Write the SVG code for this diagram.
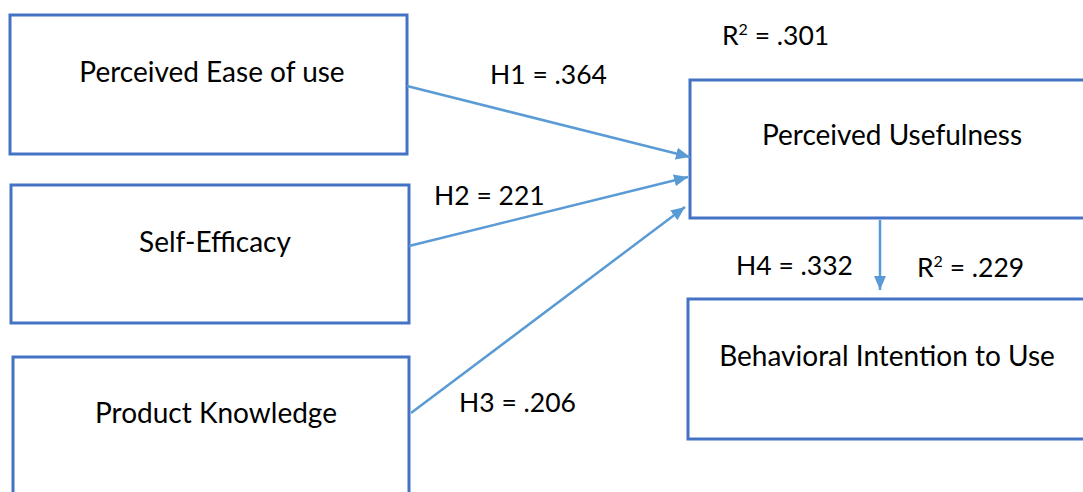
<svg xmlns="http://www.w3.org/2000/svg" width="1083" height="492" viewBox="0 0 1083 492">
<style>
.box{fill:#fff;stroke:#4472C4;stroke-width:3}
.t{font-family:Lato,"Open Sans","Liberation Sans",sans-serif;font-size:28px;fill:#000}
.l{font-family:Lato,"Open Sans","Liberation Sans",sans-serif;font-size:26.5px;fill:#000}
.c{text-anchor:middle}
.e{stroke:#5B9BD5;stroke-width:2.5;fill:none}
</style>
<defs>
<marker id="ah" markerUnits="userSpaceOnUse" markerWidth="16" markerHeight="14" refX="14" refY="6" orient="auto">
<path d="M0,0 L14,6 L0,12 z" fill="#5B9BD5"/>
</marker>
</defs>
<rect width="1083" height="492" fill="#fff"/>
<g id="peou">
<rect class="box" x="10" y="15" width="397" height="139"/>
<text class="t c" x="212" y="82">Perceived Ease of use</text>
</g>
<g id="se">
<rect class="box" x="11" y="185" width="398" height="138"/>
<text class="t c" x="215" y="252">Self-Efficacy</text>
</g>
<g id="pk">
<rect class="box" x="13" y="357" width="396" height="150"/>
<text class="t c" x="216" y="423">Product Knowledge</text>
</g>
<g id="pu">
<rect class="box" x="690" y="80" width="410" height="138"/>
<text class="t c" x="892" y="145">Perceived Usefulness</text>
</g>
<g id="bi">
<rect class="box" x="688" y="299" width="410" height="140"/>
<text class="t c" x="887" y="366">Behavioral Intention to Use</text>
</g>
<g id="connectors">
<line class="e" x1="407" y1="86" x2="690" y2="157" marker-end="url(#ah)"/>
<line class="e" x1="409" y1="246" x2="688" y2="177" marker-end="url(#ah)"/>
<line class="e" x1="411" y1="413" x2="685" y2="207" marker-end="url(#ah)"/>
<line class="e" x1="880" y1="220" x2="880" y2="290" marker-end="url(#ah)"/>
</g>
<g id="labels">
<text class="l" x="722" y="45">R<tspan font-size="16" dy="-10">2</tspan><tspan dy="10"> = .301</tspan></text>
<text class="l" x="490" y="84">H1 = .364</text>
<text class="l" x="434" y="205">H2 = 221</text>
<text class="l" x="459" y="412">H3 = .206</text>
<text class="l" x="736" y="275">H4 = .332</text>
<text class="l" x="917" y="277">R<tspan font-size="16" dy="-10">2</tspan><tspan dy="10"> = .229</tspan></text>
</g>
</svg>
